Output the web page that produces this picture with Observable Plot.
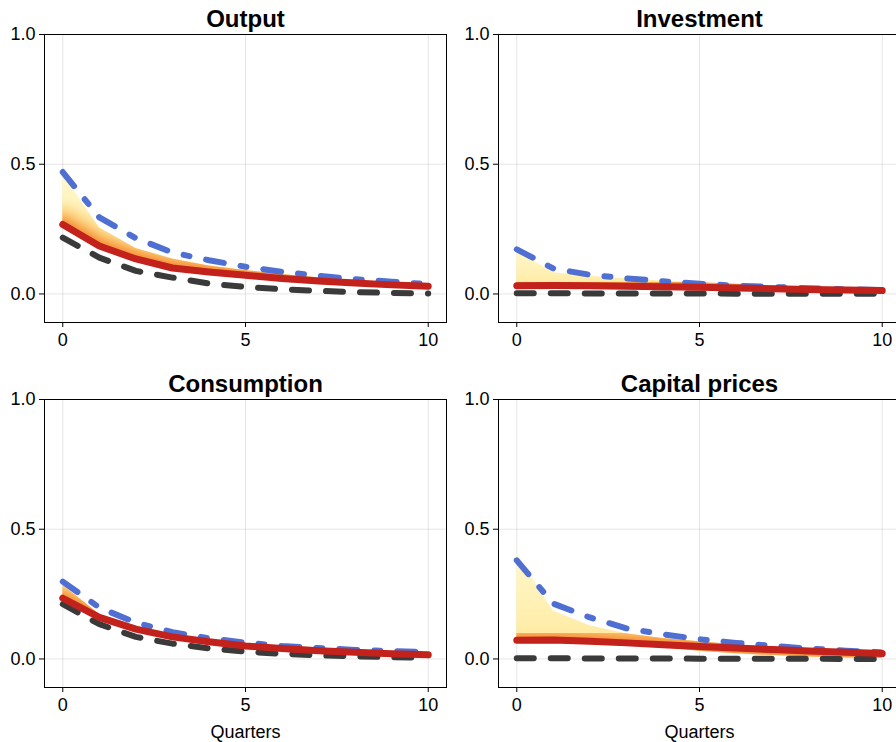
<!DOCTYPE html>
<html>
<head>
<meta charset="utf-8">
<script src="https://cdn.jsdelivr.net/npm/d3@7"></script>
<script src="https://cdn.jsdelivr.net/npm/@observablehq/plot@0.6"></script>
<style>
  html, body { margin: 0; padding: 0; background: #fff; overflow: hidden; }
  #chart { position: relative; width: 896px; height: 742px; overflow: hidden; background: #fff; }
  #chart svg { position: absolute; overflow: visible; }
</style>
</head>
<body>
<div id="chart"></div>
<script>
// Impulse responses over 10 quarters
const quarters = [0, 1, 2, 3, 4, 5, 6, 7, 8, 9, 10];
const xTicks = [0, 5, 10];
const yTicks = [0, 0.5, 1.0];

// Output
const outputBlue    = [0.470, 0.295, 0.215, 0.160, 0.130, 0.105, 0.085, 0.070, 0.057, 0.047, 0.038];
const outputRed     = [0.268, 0.185, 0.135, 0.100, 0.085, 0.072, 0.060, 0.050, 0.042, 0.035, 0.030];
const outputBlack   = [0.217, 0.140, 0.089, 0.063, 0.040, 0.027, 0.018, 0.012, 0.007, 0.004, 0.002];
const outputFanTop  = [0.462, 0.255, 0.175, 0.135, 0.108, 0.090, 0.075, 0.062, 0.052, 0.043, 0.036];
const outputFanLow  = [0.268, 0.185, 0.135, 0.100, 0.084, 0.070, 0.057, 0.047, 0.038, 0.031, 0.025];

// Investment
const investBlue    = [0.172, 0.098, 0.074, 0.060, 0.049, 0.039, 0.032, 0.027, 0.022, 0.018, 0.015];
const investRed     = [0.032, 0.033, 0.032, 0.030, 0.028, 0.026, 0.023, 0.020, 0.017, 0.015, 0.013];
const investBlack   = [0.003, 0.003, 0.002, 0.002, 0.002, 0.002, 0.001, 0.001, 0.001, 0.001, 0.001];
const investFanTop  = [0.165, 0.082, 0.068, 0.058, 0.050, 0.043, 0.037, 0.031, 0.026, 0.021, 0.017];
const investFanLow  = [0.032, 0.033, 0.031, 0.028, 0.025, 0.021, 0.017, 0.014, 0.011, 0.008, 0.006];

// Consumption
const consBlue      = [0.298, 0.198, 0.140, 0.103, 0.080, 0.063, 0.050, 0.042, 0.035, 0.030, 0.026];
const consRed       = [0.234, 0.160, 0.115, 0.085, 0.066, 0.050, 0.040, 0.032, 0.026, 0.020, 0.016];
const consBlack     = [0.211, 0.134, 0.085, 0.059, 0.041, 0.028, 0.020, 0.014, 0.010, 0.007, 0.005];
const consFanTop    = [0.285, 0.172, 0.122, 0.090, 0.070, 0.054, 0.043, 0.034, 0.027, 0.021, 0.017];
const consFanLow    = [0.234, 0.160, 0.115, 0.085, 0.065, 0.049, 0.038, 0.030, 0.023, 0.017, 0.013];

// Capital prices
const capBlue       = [0.380, 0.213, 0.160, 0.118, 0.095, 0.076, 0.062, 0.050, 0.040, 0.032, 0.026];
const capRed        = [0.072, 0.073, 0.068, 0.062, 0.055, 0.048, 0.042, 0.036, 0.031, 0.026, 0.021];
const capBlack      = [0.003, 0.003, 0.002, 0.002, 0.002, 0.001, 0.001, 0.001, 0.001, 0.000, 0.000];
const capFanTop     = [0.405, 0.185, 0.128, 0.097, 0.079, 0.066, 0.055, 0.045, 0.037, 0.030, 0.025];
const capFanLow     = [0.072, 0.070, 0.064, 0.055, 0.043, 0.030, 0.020, 0.013, 0.008, 0.004, 0.002];

const panels = [
  {title: "Output",         blue: outputBlue, red: outputRed, black: outputBlack, hi: outputFanTop, lo: outputFanLow, left: 0,   top: 0,   xlabel: false},
  {title: "Investment",     blue: investBlue, red: investRed, black: investBlack, hi: investFanTop, lo: investFanLow, left: 454, top: 0,   xlabel: false},
  {title: "Consumption",    blue: consBlue,   red: consRed,   black: consBlack,   hi: consFanTop,   lo: consFanLow,   left: 0,   top: 365, xlabel: true},
  {title: "Capital prices", blue: capBlue,    red: capRed,    black: capBlack,    hi: capFanTop,    lo: capFanLow,    left: 454, top: 365, xlabel: true}
];

const FONT = "'Liberation Sans', Arial, Helvetica, sans-serif";
// soft orange halo hugging the red line inside the fan
const glowLayers = [
  [44, "#fdd98a", 0.60],
  [30, "#fcc468", 0.65],
  [20, "#f9a64a", 0.70],
  [12, "#f48a35", 0.85]
];
const glowColors = new Set(glowLayers.map(d => d[1]));
const NS = "http://www.w3.org/2000/svg";

function el(name, attrs) {
  const e = document.createElementNS(NS, name);
  for (const k in attrs) e.setAttribute(k, attrs[k]);
  return e;
}

function drawPanel(p, i) {
  const rows = quarters.map((t, k) => ({t, blue: p.blue[k], red: p.red[k], black: p.black[k], hi: p.hi[k], lo: p.lo[k]}));
  const gradId = `fan-grad-${i}`;
  const clipId = `fan-clip-${i}`;
  const blurId = `fan-blur-${i}`;
  const svg = Plot.plot({
    width: 448,
    height: p.xlabel ? 377 : 365,
    marginLeft: 44,
    marginRight: 2,
    marginTop: 34,
    marginBottom: p.xlabel ? 55 : 43,
    style: {fontFamily: FONT, fontSize: "18px", color: "#000", background: "transparent", overflow: "visible"},
    x: {domain: [-0.5, 10.5], ticks: xTicks, tickSize: 5, tickPadding: 6, grid: true, label: null, tickFormat: d3.format("d")},
    y: {domain: [-0.11, 1.0], ticks: yTicks, tickSize: 5, tickPadding: 4, grid: true, label: null, tickFormat: d3.format(".1f")},
    marks: [
      Plot.areaY(rows, {x: "t", y1: "lo", y2: "hi", fill: "#ffefaf"}),
      ...glowLayers.map(([w, c, o]) => Plot.lineY(rows, {x: "t", y: "red", stroke: c, strokeWidth: w, strokeOpacity: o})),
      Plot.lineY(rows, {x: "t", y: "black", stroke: "#3a3a3a", strokeWidth: 6, strokeDasharray: "17,17"}),
      Plot.lineY(rows, {x: "t", y: "blue", stroke: "#4f6fd3", strokeWidth: 6, strokeDasharray: "18,17,6,17"}),
      Plot.lineY(rows, {x: "t", y: "red", stroke: "#c3211b", strokeWidth: 7}),
      Plot.frame({stroke: "#000", strokeWidth: 1}),
      Plot.text([p.title], {text: d => d, frameAnchor: "top", dy: -8, lineAnchor: "bottom", fontSize: 24, fontWeight: "bold", fill: "#000"}),
      p.xlabel ? Plot.text(["Quarters"], {text: d => d, frameAnchor: "bottom", dy: 50, lineAnchor: "bottom", fontSize: 18, fill: "#000"}) : null
    ]
  });

  // vertical gradient for the fan body and a blur for the halo
  const defs = el("defs", {});
  const grad = el("linearGradient", {id: gradId, x1: 0, y1: 0, x2: 0, y2: 1});
  [["0", "#fff8cc"], ["0.6", "#ffefaf"], ["1", "#fde394"]].forEach(([o, c]) =>
    grad.appendChild(el("stop", {offset: o, "stop-color": c})));
  defs.appendChild(grad);
  const blur = el("filter", {id: blurId, x: "-20%", y: "-50%", width: "140%", height: "200%"});
  blur.appendChild(el("feGaussianBlur", {stdDeviation: 3.5}));
  defs.appendChild(blur);
  svg.insertBefore(defs, svg.firstChild);

  const fanGroup = svg.querySelector('g[aria-label="area"]');
  const fanPath = fanGroup && fanGroup.querySelector("path");
  if (fanGroup) fanGroup.setAttribute("fill", `url(#${gradId})`);

  // keep the halo inside the fan outline
  if (fanPath && fanPath.getAttribute("d")) {
    const clip = el("clipPath", {id: clipId});
    const cp = el("path", {d: fanPath.getAttribute("d")});
    const tr = [fanGroup.getAttribute("transform"), fanPath.getAttribute("transform")].filter(Boolean).join(" ");
    if (tr) cp.setAttribute("transform", tr);
    clip.appendChild(cp);
    defs.appendChild(clip);
    const glows = [...svg.querySelectorAll('g[aria-label="line"]')].filter(g => glowColors.has(g.getAttribute("stroke")));
    if (glows.length) {
      const wrap = el("g", {"clip-path": `url(#${clipId})`});
      const soft = el("g", {filter: `url(#${blurId})`});
      glows[0].parentNode.insertBefore(wrap, glows[0]);
      wrap.appendChild(soft);
      glows.forEach(g => soft.appendChild(g));
    }
  }

  svg.style.left = p.left + "px";
  svg.style.top = p.top + "px";
  document.getElementById("chart").appendChild(svg);
}

panels.forEach(drawPanel);
</script>
</body>
</html>
